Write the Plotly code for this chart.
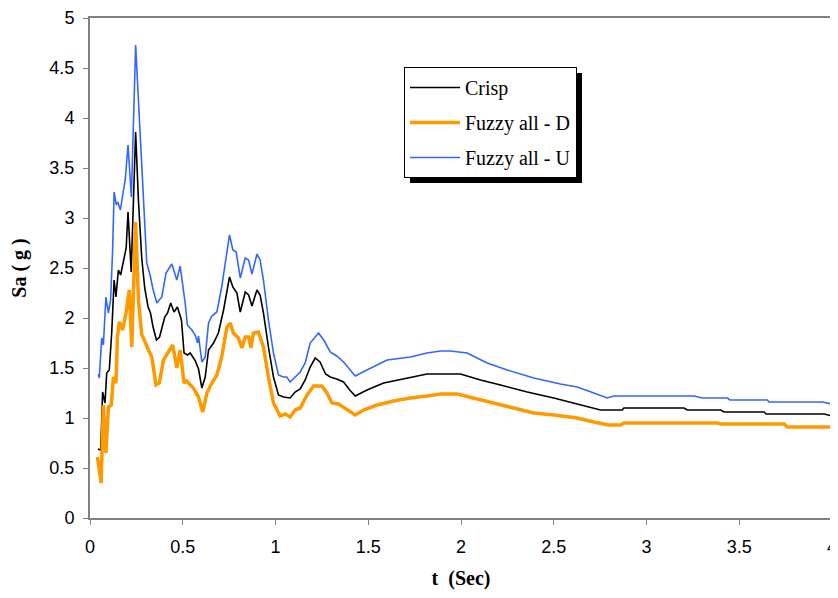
import plotly.graph_objects as go

# ---- data ----
t_crisp = [0.043, 0.058, 0.068, 0.081, 0.09, 0.104, 0.117, 0.13, 0.14, 0.153, 0.165, 0.18, 0.195,
           0.205, 0.213, 0.222, 0.246, 0.261, 0.279, 0.295, 0.313, 0.326, 0.34, 0.358, 0.375,
           0.403, 0.418, 0.435, 0.453, 0.471, 0.493, 0.507, 0.526, 0.54, 0.565, 0.585, 0.603,
           0.621, 0.639, 0.666, 0.692, 0.72, 0.752, 0.77, 0.792, 0.81, 0.837, 0.855, 0.873,
           0.9, 0.917, 0.935, 0.962, 0.989, 1.016, 1.043, 1.079, 1.106, 1.133, 1.16, 1.187,
           1.214, 1.24, 1.27, 1.295, 1.33, 1.367, 1.4, 1.43, 1.493, 1.583, 1.709, 1.817,
           1.997, 2.105, 2.213, 2.357, 2.5, 2.644, 2.752, 2.869, 2.878, 3.202, 3.22, 3.4,
           3.418, 3.634, 3.645, 3.958, 4.0]
sa_crisp = [0.69, 0.68, 1.26, 1.15, 1.45, 1.48, 1.85, 2.38, 2.21, 2.48, 2.43, 2.55, 2.7,
            3.06, 2.7, 2.46, 3.86, 3.18, 2.6, 2.3, 2.11, 2.05, 1.91, 1.78, 1.81,
            2.01, 2.05, 2.15, 2.06, 2.11, 1.98, 1.65, 1.63, 1.65, 1.58, 1.49, 1.30,
            1.41, 1.68, 1.75, 1.85, 2.08, 2.41, 2.31, 2.25, 2.06, 2.26, 2.23, 2.12,
            2.28, 2.23, 2.05, 1.71, 1.41, 1.23, 1.21, 1.2, 1.26, 1.29, 1.38, 1.51,
            1.6, 1.56, 1.44, 1.41, 1.39, 1.36, 1.28, 1.22, 1.28, 1.35, 1.40, 1.44,
            1.44, 1.38, 1.33, 1.26, 1.2, 1.13, 1.08, 1.08, 1.1, 1.1, 1.08, 1.08,
            1.06, 1.06, 1.04, 1.04, 1.02]

t_fuzzy_d = [0.04, 0.06, 0.072, 0.086, 0.099, 0.115, 0.126, 0.14, 0.148, 0.158, 0.176, 0.194,
             0.212, 0.225, 0.246, 0.261, 0.279, 0.288, 0.315, 0.333, 0.356, 0.374, 0.396,
             0.418, 0.446, 0.468, 0.486, 0.507, 0.52, 0.557, 0.585, 0.608, 0.63, 0.657,
             0.684, 0.71, 0.738, 0.756, 0.773, 0.8, 0.819, 0.837, 0.855, 0.867, 0.881,
             0.908, 0.935, 0.962, 0.989, 1.025, 1.052, 1.079, 1.106, 1.133, 1.17, 1.205,
             1.25, 1.277, 1.304, 1.34, 1.385, 1.43, 1.475, 1.547, 1.637, 1.727, 1.817,
             1.889, 1.979, 2.069, 2.177, 2.285, 2.392, 2.5, 2.626, 2.716, 2.797, 2.86,
             2.878, 3.382, 3.4, 3.742, 3.76, 4.0]
sa_fuzzy_d = [0.61, 0.35, 1.13, 0.65, 1.11, 1.13, 1.41, 1.35, 1.81, 1.96, 1.88, 2.05,
              2.28, 1.71, 2.96, 2.18, 1.83, 1.8, 1.68, 1.61, 1.33, 1.35, 1.58,
              1.65, 1.73, 1.5, 1.68, 1.35, 1.37, 1.3, 1.21, 1.06, 1.25, 1.35,
              1.43, 1.61, 1.91, 1.95, 1.85, 1.8, 1.7, 1.81, 1.81, 1.7, 1.85,
              1.86, 1.71, 1.41, 1.15, 1.02, 1.04, 1.01, 1.08, 1.1, 1.23, 1.32,
              1.32, 1.25, 1.15, 1.14, 1.08, 1.03, 1.08, 1.13, 1.17, 1.2, 1.22,
              1.24, 1.24, 1.2, 1.15, 1.1, 1.05, 1.03, 1.0, 0.96, 0.93, 0.93,
              0.95, 0.95, 0.94, 0.94, 0.91, 0.91]

t_fuzzy_u = [0.045, 0.05, 0.063, 0.072, 0.086, 0.099, 0.111, 0.122, 0.13, 0.142, 0.15, 0.164,
             0.178, 0.19, 0.205, 0.214, 0.223, 0.246, 0.27, 0.288, 0.306, 0.324, 0.338,
             0.36, 0.387, 0.41, 0.441, 0.468, 0.486, 0.513, 0.525, 0.549, 0.567, 0.58,
             0.585, 0.603, 0.621, 0.639, 0.657, 0.684, 0.71, 0.734, 0.752, 0.77, 0.788,
             0.81, 0.837, 0.855, 0.873, 0.9, 0.917, 0.935, 0.962, 0.989, 1.016, 1.043,
             1.061, 1.079, 1.106, 1.133, 1.16, 1.187, 1.232, 1.26, 1.295, 1.33, 1.367,
             1.43, 1.493, 1.601, 1.727, 1.817, 1.889, 1.943, 2.033, 2.141, 2.249, 2.392,
             2.536, 2.626, 2.716, 2.788, 2.824, 3.256, 3.3, 3.436, 3.45, 3.652, 3.66,
             3.948, 4.0]
sa_fuzzy_u = [1.44, 1.40, 1.80, 1.73, 2.21, 2.05, 2.18, 2.68, 3.26, 3.13, 3.16, 3.08,
              3.25, 3.38, 3.73, 3.4, 3.21, 4.73, 3.85, 3.18, 2.55, 2.43, 2.3,
              2.15, 2.21, 2.45, 2.54, 2.38, 2.52, 2.15, 1.93, 1.88, 1.83, 1.75,
              1.82, 1.56, 1.61, 1.95, 2.02, 2.06, 2.31, 2.61, 2.83, 2.68, 2.66,
              2.40, 2.6, 2.58, 2.44, 2.64, 2.58, 2.38, 1.98, 1.65, 1.43, 1.41,
              1.41, 1.36, 1.41, 1.46, 1.55, 1.75, 1.85, 1.78, 1.66, 1.62, 1.56,
              1.42, 1.48, 1.58, 1.61, 1.65, 1.67, 1.67, 1.65, 1.55, 1.48, 1.40,
              1.34, 1.31, 1.25, 1.2, 1.22, 1.22, 1.2, 1.2, 1.18, 1.18, 1.16,
              1.16, 1.14]

x_ticks = [0, 0.5, 1, 1.5, 2, 2.5, 3, 3.5, 4]
x_tick_labels = ["0", "0.5", "1", "1.5", "2", "2.5", "3", "3.5", "4"]
y_ticks = [0, 0.5, 1, 1.5, 2, 2.5, 3, 3.5, 4, 4.5, 5]
y_tick_labels = ["0", "0.5", "1", "1.5", "2", "2.5", "3", "3.5", "4", "4.5", "5"]

series_names = ["Crisp", "Fuzzy all - D", "Fuzzy all - U"]

# page body has an 8px default margin, so the figure is sized/offset for that
W, H = 830, 582
ML, MR, MT, MB = 82, 6, 10, 72
PW, PH = W - ML - MR, H - MT - MB


def px_x(px):  # window pixel -> paper x
    return (px - 8 - ML) / PW


def px_y(py):  # window pixel -> paper y
    return 1 - (py - 8 - MT) / PH


fig = go.Figure()
fig.add_trace(go.Scatter(x=t_crisp, y=sa_crisp, mode="lines", name=series_names[0],
                         legendgroup="a", line=dict(color="#000000", width=1.6)))
fig.add_trace(go.Scatter(x=t_fuzzy_d, y=sa_fuzzy_d, mode="lines", name=series_names[1],
                         legendgroup="b", line=dict(color="#FF9900", width=3.5)))
fig.add_trace(go.Scatter(x=t_fuzzy_u, y=sa_fuzzy_u, mode="lines", name=series_names[2],
                         legendgroup="c", line=dict(color="#3366FF", width=1.6)))

axis_common = dict(showgrid=False, zeroline=False, showline=True, linecolor="#808080",
                   linewidth=2, mirror=True, ticks="outside", ticklen=5, tickcolor="#808080",
                   tickwidth=1, automargin=False, ticklabeloverflow="allow",
                   tickfont=dict(family="Liberation Sans, Arial", size=18, color="#000"))

title_font = dict(family="Liberation Serif, Times New Roman", size=20, color="#000")

fig.update_layout(
    width=W, height=H,
    margin=dict(l=ML, r=MR, t=MT, b=MB),
    paper_bgcolor="white", plot_bgcolor="white",
    xaxis=dict(range=[0, 4], tickvals=x_ticks, ticktext=x_tick_labels,
               ticklabelstandoff=6,
               title=dict(text="<b>t  (Sec)</b>", standoff=18, font=title_font),
               **axis_common),
    yaxis=dict(range=[0, 5], tickvals=y_ticks, ticktext=y_tick_labels,
               ticklabelstandoff=5,
               title=dict(text="<b>Sa ( g )</b>", standoff=22, font=title_font),
               **axis_common),
    showlegend=True,
    legend=dict(x=px_x(404), y=px_y(67), xanchor="left", yanchor="top",
                bgcolor="white", bordercolor="#000", borderwidth=1,
                font=dict(family="Liberation Serif, Times New Roman", size=20, color="#000"),
                tracegroupgap=6, itemwidth=50),
    shapes=[dict(type="rect", xref="paper", yref="paper",
                 x0=px_x(410), x1=px_x(582),
                 y0=px_y(183), y1=px_y(73),
                 fillcolor="#000", line=dict(width=0), layer="above")],
)

fig.write_html("out.html")
